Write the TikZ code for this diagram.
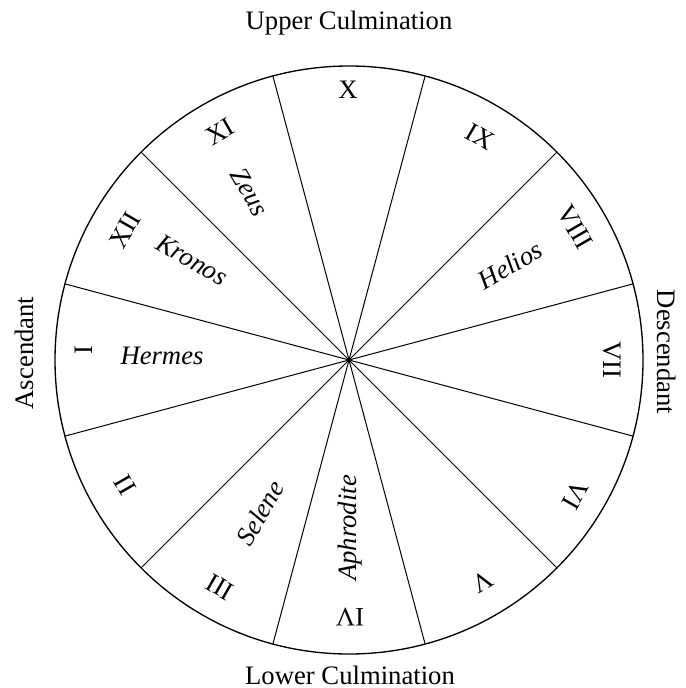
\documentclass[tikz,border=0pt]{standalone}
\usepackage{fontspec}
\setmainfont{Liberation Serif}
\usepackage{tikz}

\begin{document}
\begin{tikzpicture}[x=0.75pt,y=0.75pt,yscale=-1,xscale=1,
  font=\fontsize{20}{24}\selectfont,
  every node/.style={inner sep=0.75pt},
  godname/.style={font=\fontsize{20}{24}\selectfont\itshape}]
%set diagram left start at 0, and has height of 688
\useasboundingbox (0,0) rectangle (685,688);

\coordinate (O) at (349,360);

%Shape: Circle [id:chart]
\draw  [line width=1]  (55,360) .. controls (55,197.6) and (186.6,66) .. (349,66) .. controls (511.4,66) and (643,197.6) .. (643,360) .. controls (643,522.4) and (511.4,654) .. (349,654) .. controls (186.6,654) and (55,522.4) .. (55,360) -- cycle ;
%Straight Lines [id:cusp1]
\draw [line width=0.75]    (O) -- (65,283.9) ;
%Straight Lines [id:cusp2]
\draw [line width=0.75]    (O) -- (65,436.1) ;
%Straight Lines [id:cusp3]
\draw [line width=0.75]    (O) -- (141.1,567.9) ;
%Straight Lines [id:cusp4]
\draw [line width=0.75]    (O) -- (272.9,644) ;
%Straight Lines [id:cusp5]
\draw [line width=0.75]    (O) -- (425.1,644) ;
%Straight Lines [id:cusp6]
\draw [line width=0.75]    (O) -- (556.9,567.9) ;
%Straight Lines [id:cusp7]
\draw [line width=0.75]    (O) -- (633,436.1) ;
%Straight Lines [id:cusp8]
\draw [line width=0.75]    (O) -- (633,283.9) ;
%Straight Lines [id:cusp9]
\draw [line width=0.75]    (O) -- (556.9,152.1) ;
%Straight Lines [id:cusp10]
\draw [line width=0.75]    (O) -- (425.1,76) ;
%Straight Lines [id:cusp11]
\draw [line width=0.75]    (O) -- (272.9,76) ;
%Straight Lines [id:cusp12]
\draw [line width=0.75]    (O) -- (141.1,152.1) ;

% Text Node
\draw (84,350) node [rotate=90] (hI) {I};
% Text Node
\draw (125,485) node [rotate=120] (hII) {II};
% Text Node
\draw (220,587) node [rotate=150] (hIII) {III};
% Text Node
\draw (350,617) node [rotate=180] (hIV) {IV};
% Text Node
\draw (482,582) node [rotate=210] (hV) {V};
% Text Node
\draw (575,495) node [rotate=240] (hVI) {VI};
% Text Node
\draw (612,360) node [rotate=270] (hVII) {VII};
% Text Node
\draw (575,227) node [rotate=-60] (hVIII) {VIII};
% Text Node
\draw (480,137) node [rotate=-30] (hIX) {IX};
% Text Node
\draw (348,90) node (hX) {X};
% Text Node
\draw (220,132) node [rotate=30] (hXI) {XI};
% Text Node
\draw (125,230) node [rotate=60] (hXII) {XII};

% Text Node
\draw (162,356) node [godname] (hermes) {Hermes};
% Text Node
\draw (192,260) node [godname,rotate=-30] (kronos) {Kronos};
% Text Node
\draw (250,192) node [godname,rotate=-60] (zeus) {Zeus};
% Text Node
\draw (510,265) node [godname,rotate=30] (helios) {Helios};
% Text Node
\draw (260,513) node [godname,rotate=60] (selene) {Selene};
% Text Node
\draw (350,528) node [godname,rotate=90] (aphrodite) {Aphrodite};

% Text Node
\draw (349,23) node (upper) {Upper Culmination};
% Text Node
\draw (350,675) node (lower) {Lower Culmination};
% Text Node
\draw (24,353) node [rotate=90] (asc) {Ascendant};
% Text Node
\draw (667,352) node [rotate=-90] (desc) {Descendant};

\end{tikzpicture}
\end{document}
